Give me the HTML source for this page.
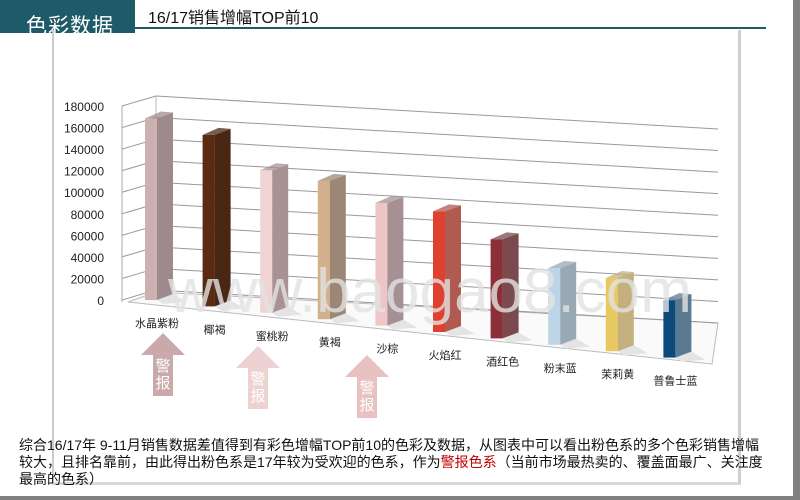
<!DOCTYPE html>
<html><head><meta charset="utf-8">
<style>
body{margin:0;width:800px;height:500px;overflow:hidden;background:#fff;font-family:"Liberation Sans","Noto Sans CJK SC",sans-serif;position:relative}
#hdr{position:absolute;left:0;top:0;width:135px;height:33px;background:#1f5a68;overflow:hidden}
#hdr span{position:absolute;left:26px;top:10px;color:#fff;font-size:21px;letter-spacing:1px}
#title{position:absolute;left:148px;top:4px;font-size:16px;color:#111}
#tline{position:absolute;left:135px;top:27px;width:631px;height:2px;background:#1f5a68}
#card{position:absolute;left:52px;top:30px;width:684px;height:452px;border-left:2px solid #ccc;border-right:3px solid #d0d0d0;border-bottom:3px solid #d8d8d8}
#rgray{position:absolute;left:793px;top:0;width:7px;height:500px;background:#808080}
#bgray{position:absolute;left:0;top:496px;width:800px;height:4px;background:#808080}
#desc{position:absolute;left:19px;top:437px;width:752px;font-size:14px;line-height:17px;color:#111}
#desc b{font-weight:normal;color:#c00000}
svg{position:absolute;left:0;top:0}
</style></head><body>
<div id="hdr"><span>色彩数据</span></div>
<div id="title">16/17销售增幅TOP前10</div>
<div id="tline"></div>
<div id="card"></div>
<div id="rgray"></div>
<div id="bgray"></div>
<svg id="chart" width="800" height="500"></svg>
<div id="desc">综合16/17年 9-11月销售数据差值得到有彩色增幅TOP前10的色彩及数据，从图表中可以看出粉色系的多个色彩销售增幅较大，且排名靠前，由此得出粉色系是17年较为受欢迎的色系，作为<b>警报色系</b>（当前市场最热卖的、覆盖面最广、关注度最高的色系）</div>
<script>
const categories=["水晶紫粉","椰褐","蜜桃粉","黄褐","沙棕","火焰红","酒红色","粉末蓝","茉莉黄","普鲁士蓝"];
const values=[168000,160000,134000,131000,117000,116000,96000,75000,72000,57000];
const frontColors=["#cdb1b1","#5a2a12","#f0d4d4","#d2b08e","#eec6c8","#e04030","#8a3036","#bcd4e6","#e8c860","#0c4a7a"];
const sideColors=["#9e8a8c","#4a2614","#a89294","#9c8676","#a69094","#b05a52","#7a4a4e","#98a8b4","#c4b07c","#5a7a92"];
const ticks=[0,20000,40000,60000,80000,100000,120000,140000,160000,180000];
const axisMax=180000;
const svg=document.getElementById('chart');
const NS='http://www.w3.org/2000/svg';
function mk(t,a){const e=document.createElementNS(NS,t);for(const k in a)e.setAttribute(k,a[k]);svg.appendChild(e);return e;}
const n=categories.length;
function xAt(i){return 145+i*57.6;}
function baseY(i){return 300+i*6.4;}
function kAt(i){return (1.08-0.008*i)*1e-3;}
function yVal(i,v){return baseY(i)-v*kAt(i);}
function yLeft(v){return 300-v*194/axisMax;}
function yRight(v){return 323-v*194/axisMax;}
let fl=mk('polygon',{points:"128,302 156,292 718,323 712,364",fill:"#fafafa",stroke:"#bbb","stroke-width":"1"});

ticks.forEach(v=>{
 const yl=yLeft(v);
 let g=mk('polyline',{points:`122,${yl} 156,${yl-10} 718,${yRight(v)}`,fill:"none",stroke:"#999","stroke-width":"1"});
 
 let t=mk('text',{x:104,y:yl+5,"text-anchor":"end","font-size":"12",fill:"#222"});t.textContent=String(v);
 
});
let ax=mk('line',{x1:122,y1:yLeft(axisMax),x2:122,y2:302,stroke:"#aaa"});

let bk=mk('line',{x1:156,y1:yLeft(axisMax)-10,x2:156,y2:292,stroke:"#bbb"});

for(let i=0;i<n;i++){
 const x=xAt(i),yb=baseY(i),yt=yVal(i,values[i]);
 const fw=12,sw=16,dy=6;
 let sh=mk('polygon',{points:`${x+fw},${yb} ${x+fw+sw},${yb-dy} ${x+fw+sw+14},${yb-dy+8} ${x+fw+6},${yb+4}`,fill:"#e4e4e4"});
 
 let f=mk('rect',{x:x,y:yt,width:fw,height:yb-yt,fill:frontColors[i]});
 
 let s=mk('polygon',{points:`${x+fw},${yt} ${x+fw+sw},${yt-dy} ${x+fw+sw},${yb-dy} ${x+fw},${yb}`,fill:sideColors[i]});
 
 let tp=mk('polygon',{points:`${x},${yt} ${x+fw},${yt} ${x+fw+sw},${yt-dy} ${x+sw},${yt-dy-1}`,fill:sideColors[i],opacity:"0.75"});
 
 let l=mk('text',{x:x+12,y:yb+27,"text-anchor":"middle","font-size":"11",fill:"#222"});l.textContent=categories[i];
 
}
let wm=mk('text',{x:430,y:312,"text-anchor":"middle","font-size":"62",fill:"#e2e2e2","fill-opacity":"0.8","font-family":"Liberation Sans, sans-serif"});
wm.textContent="www.baogao8.com";

const arrows=[[163,333,396,"#c9a9a9"],[258,346,409,"#eed2d2"],[367,355,418,"#e8c1c2"]];
arrows.forEach(a=>{
 const [cx,top,bot,c]=a;
 let p=mk('polygon',{points:`${cx},${top} ${cx+22},${top+22} ${cx+10},${top+22} ${cx+10},${bot} ${cx-10},${bot} ${cx-10},${top+22} ${cx-22},${top+22}`,fill:c});
 
 let t1=mk('text',{x:cx,y:top+38,"text-anchor":"middle","font-size":"15",fill:"#fff"});t1.textContent="警";
 
 let t2=mk('text',{x:cx,y:top+55,"text-anchor":"middle","font-size":"15",fill:"#fff"});t2.textContent="报";
 
});
</script>
</body></html>
